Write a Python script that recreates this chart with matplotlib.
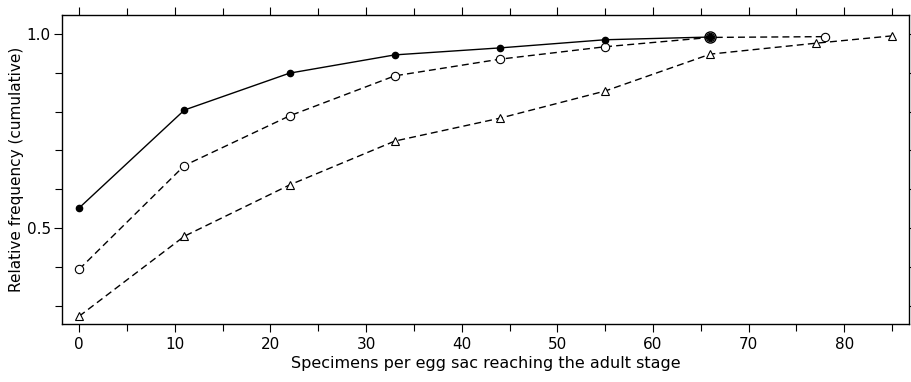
import numpy as np
import matplotlib.pyplot as plt
from matplotlib.ticker import MultipleLocator, FixedLocator

# cumulative relative frequency
x_filled = [0, 11, 22, 33, 44, 55, 66]
y_filled = [0.552, 0.804, 0.899, 0.946, 0.964, 0.985, 0.992]

x_open = [0, 11, 22, 33, 44, 55, 66, 78]
y_open = [0.394, 0.661, 0.789, 0.892, 0.935, 0.967, 0.991, 0.993]

x_tri = [0, 11, 22, 33, 44, 55, 66, 77, 85]
y_tri = [0.273, 0.479, 0.611, 0.724, 0.783, 0.853, 0.948, 0.976, 0.995]

fig = plt.figure(figsize=(9.12, 3.82), dpi=100)
ax = fig.add_axes([0.068, 0.152, 0.929, 0.809])

ax.plot(x_tri, y_tri, color='black', lw=1, ls=(0, (5, 3)), marker='^',
        ms=6, mfc='white', mec='black', mew=0.8)
ax.plot(x_open, y_open, color='black', lw=1, ls=(0, (5, 3)), marker='o',
        ms=6, mfc='white', mec='black', mew=0.8)
ax.plot(x_filled, y_filled, color='black', lw=1, marker='o', ms=4.5,
        mfc='black', mec='black')
# the point shared by both circle series is drawn as a ringed dot
ax.plot(x_filled[-1:], y_filled[-1:], ls='none', marker='o', ms=8,
        mfc='none', mec='black', mew=1)

ax.set_xlim(-1.8, 86.8)
ax.set_ylim(0.253, 1.049)

ax.xaxis.set_major_locator(MultipleLocator(10))
ax.xaxis.set_minor_locator(MultipleLocator(5))
ax.yaxis.set_major_locator(FixedLocator([0.5, 1.0]))
ax.yaxis.set_minor_locator(FixedLocator([0.3, 0.4, 0.6, 0.7, 0.8, 0.9]))
ax.set_yticklabels(['0.5', '1.0'])

ax.tick_params(which='both', direction='out', top=True, right=True,
               labelsize=11, width=0.8)
ax.tick_params(which='major', length=6)
ax.tick_params(which='minor', length=5)
ax.tick_params(axis='y', pad=2)
for s in ax.spines.values():
    s.set_linewidth(1)

ax.set_xlabel('Specimens per egg sac reaching the adult stage', fontsize=11.5, labelpad=3)
ax.set_ylabel('Relative frequency (cumulative)', fontsize=11, labelpad=2)

plt.savefig('out.png', dpi=100)
